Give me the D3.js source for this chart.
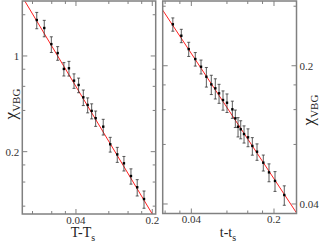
<!DOCTYPE html>
<html>
<head>
<meta charset="utf-8">
<script src="https://cdn.jsdelivr.net/npm/d3@7"></script>
<style>
  body { margin: 0; background: #fff; }
  text { font-family: "Liberation Serif", "DejaVu Serif", serif; }
</style>
</head>
<body>
<svg id="chart" width="319" height="247"></svg>
<script>
// left panel: chi_VBG vs T-Ts
const leftX = [0.0175, 0.0205, 0.0238, 0.0272, 0.0310, 0.0345, 0.0384, 0.0423, 0.0467, 0.0512,
  0.0557, 0.0606, 0.0711, 0.0824, 0.0956, 0.110, 0.1276, 0.1456, 0.168];
const leftY = [1.83, 1.60, 1.22, 1.05, 0.804, 0.813, 0.660, 0.614, 0.499, 0.439,
  0.397, 0.351, 0.3045, 0.2265, 0.191, 0.1645, 0.1328, 0.1099, 0.0902];
const leftErr = [0.25, 0.22, 0.16, 0.12, 0.09, 0.10, 0.08, 0.075, 0.065, 0.055,
  0.05, 0.045, 0.04, 0.028, 0.024, 0.02, 0.017, 0.015, 0.013];
const leftFit = { amp: 0.00822, expo: -1.332 };

// right panel: chi_VBG vs t-ts
const rightX = [0.0279, 0.0329, 0.0380, 0.0432, 0.0483, 0.0536, 0.0590, 0.0638, 0.0686, 0.0741,
  0.0801, 0.0889, 0.0942, 0.0993, 0.1046, 0.1116, 0.1206, 0.1312, 0.1437, 0.1624, 0.1815, 0.204, 0.2444];
const rightY = [0.324, 0.2836, 0.2428, 0.2162, 0.1977, 0.176, 0.161, 0.1538, 0.1451, 0.1342,
  0.130, 0.1204, 0.1084, 0.0983, 0.0954, 0.0903, 0.0869, 0.0786, 0.0735, 0.0647, 0.0578, 0.0523, 0.0444];
const rightErr = [0.025, 0.022, 0.02, 0.017, 0.016, 0.02, 0.018, 0.018, 0.016, 0.015,
  0.014, 0.012, 0.011, 0.011, 0.01, 0.009, 0.009, 0.008, 0.007, 0.006, 0.006, 0.006, 0.005];
const rightFit = { amp: 0.01248, expo: -0.906 };

const xMajor = [0.04, 0.2];
const xMinor = [0.016, 0.024, 0.032, 0.08, 0.12, 0.16];
const leftYMajor = [1, 0.2];
const leftYMinor = [2, 0.4, 0.6, 0.8, 0.08, 0.12, 0.16];
const rightYMajor = [0.2, 0.04];
const rightYMinor = [0.4, 0.08, 0.12, 0.16];

const svg = d3.select("#chart");
const frameColor = "#808080";

function drawPanel(opt) {
  const x = d3.scaleLog().domain(opt.xDomain).range([opt.x0, opt.x1]);
  const y = d3.scaleLog().domain(opt.yDomain).range([opt.y1, opt.y0]);
  const g = svg.append("g");

  // ticks on all four sides, pointing inward
  function vTicks(vals, len) {
    vals.filter(v => v >= opt.xDomain[0] && v <= opt.xDomain[1]).forEach(v => {
      g.append("line").attr("x1", x(v)).attr("x2", x(v)).attr("y1", opt.y1).attr("y2", opt.y1 - len)
        .attr("stroke", frameColor).attr("stroke-width", 1);
      g.append("line").attr("x1", x(v)).attr("x2", x(v)).attr("y1", opt.y0).attr("y2", opt.y0 + len)
        .attr("stroke", frameColor).attr("stroke-width", 1);
    });
  }
  function hTicks(vals, len) {
    vals.filter(v => v >= opt.yDomain[0] && v <= opt.yDomain[1]).forEach(v => {
      g.append("line").attr("y1", y(v)).attr("y2", y(v)).attr("x1", opt.x0).attr("x2", opt.x0 + len)
        .attr("stroke", frameColor).attr("stroke-width", 1);
      g.append("line").attr("y1", y(v)).attr("y2", y(v)).attr("x1", opt.x1).attr("x2", opt.x1 - len)
        .attr("stroke", frameColor).attr("stroke-width", 1);
    });
  }
  vTicks(xMajor, 5);
  vTicks(xMinor, 3);
  hTicks(opt.yMajor, 5);
  hTicks(opt.yMinor, 3);

  // fit line
  const clipId = "clip" + opt.id;
  svg.append("clipPath").attr("id", clipId).append("rect")
    .attr("x", opt.x0).attr("y", opt.y0).attr("width", opt.x1 - opt.x0).attr("height", opt.y1 - opt.y0);
  const fx = [opt.xDomain[0], opt.xDomain[1]];
  g.append("line")
    .attr("clip-path", "url(#" + clipId + ")")
    .attr("x1", x(fx[0])).attr("y1", y(opt.fit.amp * Math.pow(fx[0], opt.fit.expo)))
    .attr("x2", x(fx[1])).attr("y2", y(opt.fit.amp * Math.pow(fx[1], opt.fit.expo)))
    .attr("stroke", "#ff2020").attr("stroke-width", 1);

  // error bars
  opt.xs.forEach((xv, i) => {
    const yv = opt.ys[i], e = opt.errs[i];
    const cx = x(xv);
    g.append("line").attr("x1", cx).attr("x2", cx).attr("y1", y(yv - e)).attr("y2", y(yv + e))
      .attr("stroke", "#333").attr("stroke-width", 0.8);
    [yv - e, yv + e].forEach(b => {
      g.append("line").attr("x1", cx - 1.5).attr("x2", cx + 1.5).attr("y1", y(b)).attr("y2", y(b))
        .attr("stroke", "#333").attr("stroke-width", 0.8);
    });
    g.append("rect").attr("x", cx - 1.2).attr("y", y(yv) - 1.2).attr("width", 2.4).attr("height", 2.4)
      .attr("fill", "#000");
  });

  // frame
  g.append("rect").attr("x", opt.x0).attr("y", opt.y0)
    .attr("width", opt.x1 - opt.x0).attr("height", opt.y1 - opt.y0)
    .attr("fill", "none").attr("stroke", frameColor).attr("stroke-width", 1.5);

  // tick labels
  xMajor.forEach(v => {
    g.append("text").attr("x", x(v)).attr("y", opt.y1 + 9.5).attr("text-anchor", "middle")
      .attr("font-size", 11).attr("fill", "#333").text(v);
  });
  opt.yMajor.forEach(v => {
    const t = g.append("text").attr("y", y(v)).attr("dy", "0.35em")
      .attr("font-size", 11).attr("fill", "#333").text(v);
    if (opt.labelSide === "left") t.attr("x", opt.x0 - 3).attr("text-anchor", "end");
    else t.attr("x", opt.x1 + 3).attr("text-anchor", "start");
  });

  // x title
  const xt = g.append("text").attr("x", opt.xTitleX).attr("y", 237).attr("text-anchor", "middle")
    .attr("font-size", 14).attr("fill", "#222");
  xt.append("tspan").text(opt.xTitle);
  xt.append("tspan").attr("font-size", 10).attr("dy", 4).text("s");

  // y title
  const yt = g.append("text")
    .attr("transform", "translate(" + opt.yTitleX + "," + opt.yTitleY + ") rotate(-90)")
    .attr("text-anchor", "middle").attr("font-size", 17).attr("fill", "#222");
  yt.append("tspan").text("χ");
  yt.append("tspan").attr("font-size", 11).attr("dy", 4).text("VBG");
}

drawPanel({
  id: "L", x0: 22.3, x1: 155.7, y0: 1, y1: 214,
  xDomain: [0.0129, 0.215], yDomain: [0.0701, 2.52],
  xs: leftX, ys: leftY, errs: leftErr, fit: leftFit,
  yMajor: leftYMajor, yMinor: leftYMinor, labelSide: "left",
  xTitle: "T-T", xTitleX: 83, yTitleX: 16, yTitleY: 104
});

drawPanel({
  id: "R", x0: 162.7, x1: 296.5, y0: 1, y1: 213.5,
  xDomain: [0.0229, 0.31], yDomain: [0.0358, 0.425],
  xs: rightX, ys: rightY, errs: rightErr, fit: rightFit,
  yMajor: rightYMajor, yMinor: rightYMinor, labelSide: "right",
  xTitle: "t-t", xTitleX: 228, yTitleX: 314, yTitleY: 110
});
</script>
</body>
</html>
